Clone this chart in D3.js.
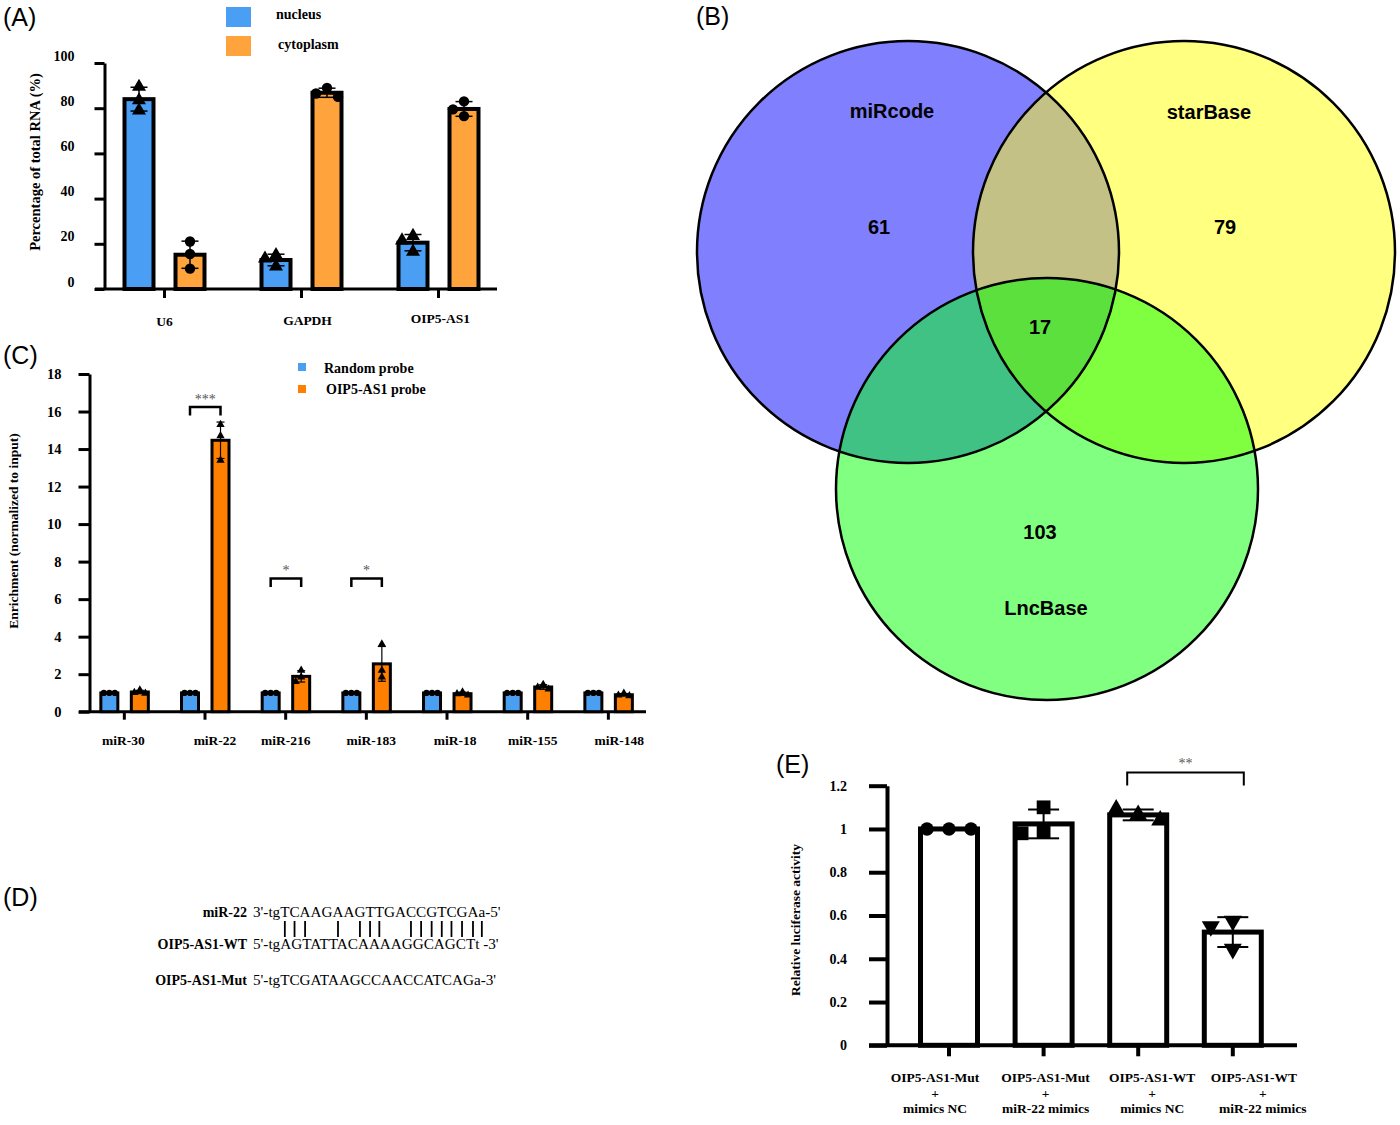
<!DOCTYPE html>
<html>
<head>
<meta charset="utf-8">
<script src="https://cdnjs.cloudflare.com/ajax/libs/d3/7.8.5/d3.min.js"></script>
<style>
  body { margin: 0; background: #fff; }
  svg { display: block; }
</style>
</head>
<body>
<svg id="fig" width="1400" height="1125"></svg>
<script>
// ---- data ----

// (A) subcellular fractionation, % of total RNA, three replicates each
var locGenes = ['U6', 'GAPDH', 'OIP5-AS1'];
var locSeries = ['nucleus', 'cytoplasm'];
var locNucleus = [[89.5, 83.5, 79], [15, 13.5, 10], [23.5, 21.5, 16.5]];
var locCytoplasm = [[21, 15.5, 9], [89, 86.5, 85], [83, 79.5, 76.5]];
var locTicks = [0, 20, 40, 60, 80, 100];

// (B) venn of predicted miRNAs
var vennSets = ['miRcode', 'starBase', 'LncBase'];
var vennOnly = [61, 79, 103];
var vennAll = 17;

// (C) RNA pull-down enrichment
var pullMirs = ['miR-30', 'miR-22', 'miR-216', 'miR-183', 'miR-18', 'miR-155', 'miR-148'];
var pullSeries = ['Random probe', 'OIP5-AS1 probe'];
var pullRandom = [[1, 1, 1], [1, 1, 1], [1, 1, 1], [1, 1, 1], [1, 1, 1], [1, 1, 1], [1, 1, 1]];
var pullProbe = [[1.15, 1.02, 0.98], [15.3, 14.7, 13.4], [2.2, 1.85, 1.6], [3.6, 2.2, 1.85],
                 [1.05, 0.95, 0.88], [1.45, 1.3, 1.2], [0.98, 0.88, 0.85]];
var pullTicks = [0, 2, 4, 6, 8, 10, 12, 14, 16, 18];
var pullSig = [{mir: 'miR-22', y: 16.24, label: '***'},
               {mir: 'miR-216', y: 7.1, label: '*'},
               {mir: 'miR-183', y: 7.1, label: '*'}];

// (D) binding site
var seqLabels = ['miR-22', 'OIP5-AS1-WT', 'OIP5-AS1-Mut'];
var seqStrands = ["3'-tgTCAAGAAGTTGACCGTCGAa-5'", "5'-tgAGTATTACAAAAGGCAGCTt -3'", "5'-tgTCGATAAGCCAACCATCAGa-3'"];

// (E) luciferase reporter
var lucGroups = [['OIP5-AS1-Mut', '+', 'mimics NC'], ['OIP5-AS1-Mut', '+', 'miR-22 mimics'],
                 ['OIP5-AS1-WT', '+', 'mimics NC'], ['OIP5-AS1-WT', '+', 'miR-22 mimics']];
var lucValues = [[1, 1, 1], [1.10, 0.99, 0.98], [1.065, 1.09, 1.04], [0.575, 0.55, 0.445]];
var lucShapes = ['circle', 'square', 'triangle', 'triangleDown'];
var lucTicks = [0, 0.2, 0.4, 0.6, 0.8, 1, 1.2];
var lucSig = {from: 2, to: 3, y: 1.261, label: '**'};

// ---- helpers ----
var SERIF = "'Liberation Serif','Times New Roman',serif";
var SANS = "'Liberation Sans',Arial,sans-serif";
var svg = d3.select('#fig');

var sd = function(a) { return d3.deviation(a) || 0; };

var symbolPath = function(shape, size) {
  var type = {circle: d3.symbolCircle, square: d3.symbolSquare,
              triangle: d3.symbolTriangle, triangleDown: d3.symbolTriangle}[shape];
  return d3.symbol().type(type).size(size)();
};

// spread replicate points sideways when they would overlap, like prism does
var swarm = function(vals, y, hit, step) {
  var placed = [];
  return vals.map(function(v) {
    var py = y(v), k = 0, dx = 0;
    for (;;) {
      dx = k === 0 ? 0 : (k % 2 ? -1 : 1) * Math.ceil(k / 2) * step;
      var clash = placed.some(function(p) {
        return Math.abs(p.x - dx) < hit && Math.abs(p.y - py) < hit;
      });
      if (!clash) break;
      k++;
    }
    placed.push({x: dx, y: py});
    return {x: dx, y: py};
  });
};

var panelLetter = function(txt, x, y) {
  svg.append('text')
    .attr('x', x).attr('y', y)
    .attr('font-family', SANS).attr('font-size', 25)
    .text(txt);
};

var yAxis = function(scale, ticks, fmt, x, len, pad, fs, dy, sw) {
  var ax = d3.axisLeft(scale).tickValues(ticks).tickFormat(fmt)
    .tickSize(len).tickSizeOuter(0).tickPadding(pad);
  var a = svg.append('g').attr('transform', 'translate(' + x + ',0)').call(ax);
  a.select('.domain').attr('stroke-width', sw);
  a.selectAll('.tick line').attr('stroke-width', sw);
  a.selectAll('.tick text')
    .attr('font-family', SERIF).attr('font-weight', 'bold')
    .attr('font-size', fs).attr('dy', dy).attr('fill', '#000');
  return a;
};

var xAxisLine = function(x1, x2, y, sw, centers, len) {
  svg.append('line')
    .attr('x1', x1).attr('x2', x2).attr('y1', y).attr('y2', y)
    .attr('stroke', '#000').attr('stroke-width', sw);
  svg.append('g').selectAll('line').data(centers).enter().append('line')
    .attr('x1', function(d) { return d; }).attr('x2', function(d) { return d; })
    .attr('y1', y).attr('y2', y + len)
    .attr('stroke', '#000').attr('stroke-width', sw);
};

var serifText = function(txt, x, y, fs, anchor) {
  return svg.append('text')
    .attr('x', x).attr('y', y)
    .attr('font-family', SERIF).attr('font-weight', 'bold')
    .attr('font-size', fs).attr('text-anchor', anchor || 'start')
    .text(txt);
};

// one bar with error bar and replicate points
var drawBar = function(g, cx, vals, y, o) {
  var m = d3.mean(vals), s = sd(vals);
  g.append('rect')
    .attr('x', cx - o.w / 2).attr('y', y(m))
    .attr('width', o.w).attr('height', y(0) - y(m))
    .attr('fill', o.fill).attr('stroke', '#000').attr('stroke-width', o.sw);
  g.append('line')
    .attr('x1', cx).attr('x2', cx).attr('y1', y(m + s)).attr('y2', y(m - s))
    .attr('stroke', '#000').attr('stroke-width', o.ew);
  [m + s, m - s].forEach(function(v) {
    g.append('line')
      .attr('x1', cx - o.cap / 2).attr('x2', cx + o.cap / 2)
      .attr('y1', y(v)).attr('y2', y(v))
      .attr('stroke', '#000').attr('stroke-width', o.ew);
  });
  swarm(vals, y, o.hit, o.step).forEach(function(p) {
    g.append('path')
      .attr('d', symbolPath(o.shape, o.size))
      .attr('transform', 'translate(' + (cx + p.x) + ',' + p.y + ')' +
            (o.shape === 'triangleDown' ? ' rotate(180)' : ''))
      .attr('fill', '#000');
  });
};

// ---- (A) ----
panelLetter('(A)', 3, 26);
var colA = ['#4a9ff5', '#ffa33c'];
var yA = d3.scaleLinear().domain([0, 100]).range([289, 63]);
var xA = d3.scaleBand().domain(locGenes).range([96, 507]);
var cA = function(g) { return xA(g) + xA.bandwidth() / 2; };
yAxis(yA, locTicks, d3.format('d'), 104.5, 10, 20, 14, -3, 3);
xAxisLine(95, 497, 289, 3, locGenes.map(cA), 9);
var gA = svg.append('g');
locGenes.forEach(function(g, i) {
  [locNucleus[i], locCytoplasm[i]].forEach(function(vals, j) {
    drawBar(gA, cA(g) + (j ? 25.5 : -25.5), vals, yA,
      {w: 29, sw: 4, fill: colA[j], ew: 1.5, cap: 17, shape: j ? 'circle' : 'triangle',
       size: 85, hit: 10, step: 11});
  });
});
[0, 6, 2].forEach(function(dx, i) {
  serifText(locGenes[i], cA(locGenes[i]) + dx, 326 - i * 1.5, 13.5, 'middle');
});
locSeries.forEach(function(s, j) {
  svg.append('rect').attr('x', 226).attr('y', 7 + j * 29).attr('width', 25).attr('height', 20)
    .attr('fill', colA[j]);
  serifText(s, 276 + j * 2, 19 + j * 30, 14);
});
serifText('Percentage of total RNA (%)', 0, 0, 14.5, 'middle')
  .attr('transform', 'translate(40,162) rotate(-90)');

// ---- (B) venn ----
panelLetter('(B)', 696, 25);
var vennCircles = [{x: 908, y: 252, fill: '#8080ff'},
                   {x: 1184, y: 252, fill: '#ffff80'},
                   {x: 1047, y: 489, fill: '#80ff80'}];
var vennR = 211;
var defs = svg.append('defs');
vennCircles.forEach(function(c, i) {
  defs.append('clipPath').attr('id', 'vc' + i)
    .append('circle').attr('cx', c.x).attr('cy', c.y).attr('r', vennR);
});
var gB = svg.append('g');
var disc = function(parent, c, fill, clip) {
  var el = parent.append('circle').attr('cx', c.x).attr('cy', c.y).attr('r', vennR)
    .attr('fill', fill);
  if (clip !== undefined) el.attr('clip-path', 'url(#vc' + clip + ')');
  return el;
};
vennCircles.forEach(function(c) { disc(gB, c, c.fill); });
disc(gB, vennCircles[1], '#c3c185', 0);
disc(gB, vennCircles[2], '#3fc283', 0);
disc(gB, vennCircles[2], '#80ff40', 1);
disc(gB.append('g').attr('clip-path', 'url(#vc0)'), vennCircles[2], '#5ce03e', 1);
vennCircles.forEach(function(c) {
  gB.append('circle').attr('cx', c.x).attr('cy', c.y).attr('r', vennR)
    .attr('fill', 'none').attr('stroke', '#000').attr('stroke-width', 2.5);
});
var vennText = function(txt, x, y) {
  gB.append('text').attr('x', x).attr('y', y)
    .attr('font-family', SANS).attr('font-weight', 'bold').attr('font-size', 20)
    .attr('text-anchor', 'middle').text(txt);
};
vennText(vennSets[0], 892, 118);
vennText(vennSets[1], 1209, 119);
vennText(vennSets[2], 1046, 615);
vennText(vennOnly[0], 879, 234);
vennText(vennOnly[1], 1225, 234);
vennText(vennOnly[2], 1040, 539);
vennText(vennAll, 1040, 334);

// ---- (C) ----
panelLetter('(C)', 3, 364);
var colC = ['#4a9ff0', '#ff8000'];
var yC = d3.scaleLinear().domain([0, 18]).range([711.7, 374]);
var xC = d3.scaleBand().domain(pullMirs).range([84, 648.7]);
var cC = function(m) { return xC(m) + xC.bandwidth() / 2; };
var offC = [-15, 15.5];
yAxis(yC, pullTicks, d3.format('d'), 89.5, 11, 17, 14.5, '0.32em', 3);
xAxisLine(79, 646, 711.7, 3, pullMirs.map(cC), 8);
var gC = svg.append('g');
pullMirs.forEach(function(m, i) {
  [pullRandom[i], pullProbe[i]].forEach(function(vals, j) {
    drawBar(gC, cC(m) + offC[j], vals, yC,
      {w: 17, sw: 3, fill: colC[j], ew: 1.2, cap: 8, shape: j ? 'triangle' : 'circle',
       size: 30, hit: 5.5, step: 5.5});
  });
});
var nudgeC = [-1, 10, 0, 5, 8, 5, 11];
pullMirs.forEach(function(m, i) {
  serifText(m, cC(m) + nudgeC[i], 745, 13.5, 'middle');
});
pullSig.forEach(function(s) {
  var x1 = cC(s.mir) + offC[0], x2 = cC(s.mir) + offC[1], y = yC(s.y);
  gC.append('path')
    .attr('d', 'M' + x1 + ',' + (y + 8.5) + 'V' + y + 'H' + x2 + 'V' + (y + 8.5))
    .attr('fill', 'none').attr('stroke', '#000').attr('stroke-width', 2.5);
  gC.append('text').attr('x', (x1 + x2) / 2).attr('y', y - 3)
    .attr('font-family', SERIF).attr('font-size', 14).attr('fill', '#555')
    .attr('text-anchor', 'middle').text(s.label);
});
pullSeries.forEach(function(s, j) {
  svg.append('rect').attr('x', 298).attr('y', 363 + j * 22).attr('width', 8).attr('height', 8)
    .attr('fill', colC[j]);
  serifText(s, 324 + j * 2, 373 + j * 21, 14);
});
serifText('Enrichment (normalized to input)', 0, 0, 13.5, 'middle')
  .attr('transform', 'translate(18,531) rotate(-90)');

// ---- (D) ----
panelLetter('(D)', 3, 906);
var seqY = [917, 949, 985];
seqLabels.forEach(function(l, i) {
  serifText(l, 247, seqY[i], 14, 'end');
});
var strandNodes = seqStrands.map(function(s, i) {
  return svg.append('text').attr('x', 253).attr('y', seqY[i])
    .attr('font-family', SERIF).attr('font-size', 15.2)
    .text(s).node();
});
// base pairs between miR-22 and the wild-type site
var comp = {A: 'T', T: 'A', C: 'G', G: 'C'};
var coreA = seqStrands[0].slice(3), coreB = seqStrands[1].slice(3);
d3.range(coreA.length).forEach(function(k) {
  var a = coreA[k].toUpperCase(), b = (coreB[k] || '').toUpperCase();
  if (comp[a] && comp[a] === b) {
    var e = strandNodes[0].getExtentOfChar(k + 3);
    var x = e.x + e.width / 2;
    svg.append('line').attr('x1', x).attr('x2', x).attr('y1', 921).attr('y2', 937)
      .attr('stroke', '#000').attr('stroke-width', 1.8);
  }
});

// ---- (E) ----
panelLetter('(E)', 776, 773);
var yE = d3.scaleLinear().domain([0, 1.2]).range([1045.3, 785.7]);
var xE = d3.scaleBand().domain(d3.range(lucGroups.length)).range([901.7, 1280.1]);
var cE = function(i) { return xE(i) + xE.bandwidth() / 2; };
yAxis(yE, lucTicks, function(d) { return String(+d.toFixed(1)); }, 887, 18, 22, 14, '0.32em', 4);
xAxisLine(869, 1297, 1045.3, 4, d3.range(lucGroups.length).map(cE), 11);
var gE = svg.append('g');
lucValues.forEach(function(vals, i) {
  drawBar(gE, cE(i), vals, yE,
    {w: 57, sw: 5, fill: '#fff', ew: 2, cap: 31, shape: lucShapes[i],
     size: lucShapes[i] === 'square' ? 190 : 140, hit: 14, step: 22});
});
var nudgeE = [-14, 2, 14, 21];
lucGroups.forEach(function(lines, i) {
  lines.forEach(function(t, k) {
    serifText(t, cE(i) + nudgeE[i] + (k && i === 3 ? 9 : 0), 1082 + k * 15.5, 13.5, 'middle');
  });
});
var sx1 = cE(lucSig.from) - 11, sx2 = cE(lucSig.to) + 11, sy = yE(lucSig.y);
gE.append('path')
  .attr('d', 'M' + sx1 + ',' + (sy + 13) + 'V' + sy + 'H' + sx2 + 'V' + (sy + 13))
  .attr('fill', 'none').attr('stroke', '#000').attr('stroke-width', 2);
gE.append('text').attr('x', (sx1 + sx2) / 2).attr('y', sy - 5)
  .attr('font-family', SERIF).attr('font-size', 14).attr('fill', '#555')
  .attr('text-anchor', 'middle').text(lucSig.label);
serifText('Relative luciferase activity', 0, 0, 13.5, 'middle')
  .attr('transform', 'translate(800,920) rotate(-90)');
</script>
</body>
</html>
